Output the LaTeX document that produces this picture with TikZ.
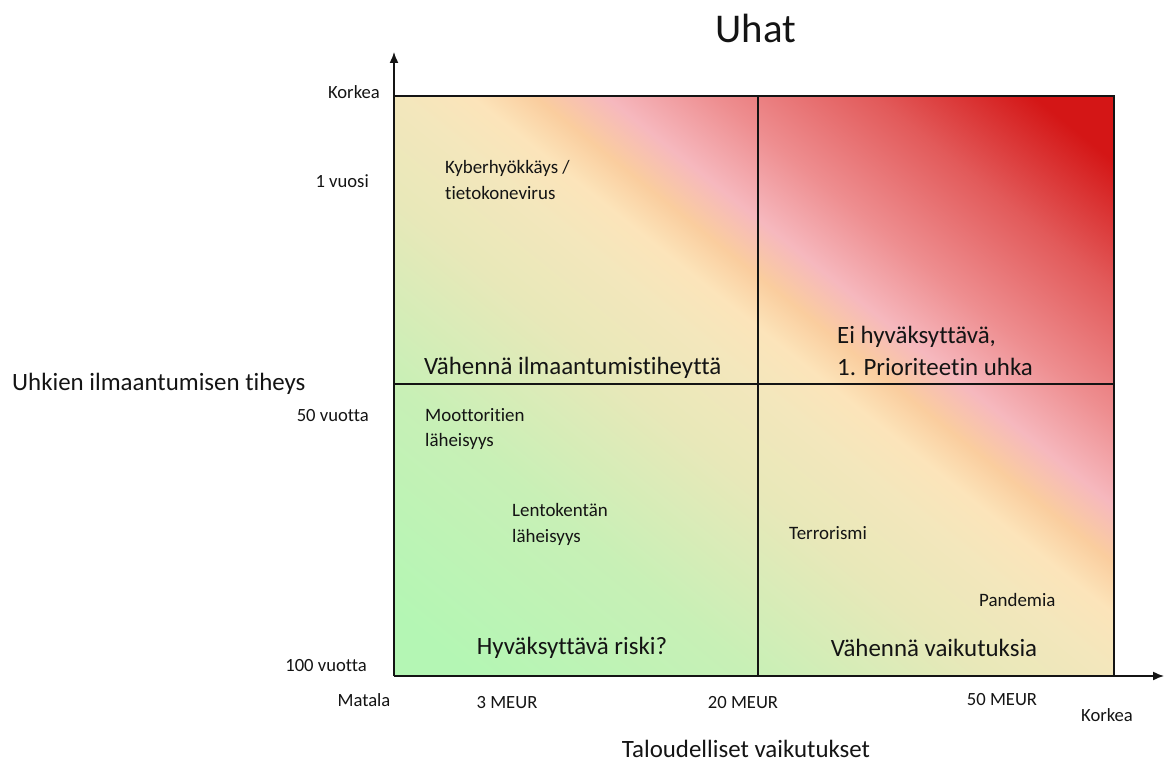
\documentclass[tikz,border=0pt]{standalone}
\usepackage{fontspec}
\setmainfont{Carlito}[Ligatures=NoCommon]
\usepackage{tikz}
\usetikzlibrary{arrows.meta, positioning}
\definecolor{mydark}{RGB}{20,20,20}
% diagonal risk colouring, green (low) to red (high)
\pgfdeclarehorizontalshading{riskgrad}{100bp}{%
  rgb(0bp)=(.706,.965,.706); rgb(18.64bp)=(.706,.965,.706);
  rgb(32.44bp)=(.784,.941,.714); rgb(43.73bp)=(.910,.910,.725);
  rgb(50bp)=(.953,.906,.737); rgb(53.77bp)=(.988,.894,.729);
  rgb(56.9bp)=(.980,.804,.620); rgb(60.36bp)=(.965,.722,.745);
  rgb(65.69bp)=(.933,.557,.565); rgb(73.53bp)=(.886,.353,.353);
  rgb(81.37bp)=(.831,.086,.086); rgb(100bp)=(.831,.086,.086)}
\tikzset{
  ticklbl/.style={font=\fontsize{18.7}{22}\selectfont, color=mydark, inner sep=0pt},
  axistitle/.style={font=\fontsize{25}{30}\selectfont, color=mydark, inner sep=0pt},
  quadlbl/.style={font=\fontsize{25}{32}\selectfont, color=mydark, inner sep=0pt, align=left},
  itemlbl/.style={font=\fontsize{19}{26}\selectfont, color=mydark, inner sep=0pt, align=left},
  gridline/.style={line width=1.5bp, color=mydark},
  axisarrow/.style={-{Latex[length=11bp,width=9bp]}, line width=1.5bp, color=mydark}
}
\begin{document}
\begin{tikzpicture}[x=1bp, y=-1bp]
  \useasboundingbox (0,0) rectangle (1166,764);
  % corners of the matrix
  \coordinate (tl) at (394,96);
  \coordinate (tr) at (1114,96);
  \coordinate (br) at (1114,676);
  \coordinate (bl) at (394,676);
  \coordinate (tm) at (758,96);
  \coordinate (bm) at (758,676);
  \coordinate (lm) at (394,384);
  \coordinate (rm) at (1114,384);
  \coordinate (ytip) at (394,52);
  \coordinate (xtip) at (1164,676);
  \shade[shading=riskgrad, shading angle=51.15] (tl) rectangle (br);
  % quadrants
  \draw[gridline] (tm) -- (bm);
  \draw[gridline] (lm) -- (rm);
  \draw[gridline] (tl) -- (tr) -- (br);
  % axes
  \draw[axisarrow] (bl) -- (ytip);
  \draw[axisarrow] (bl) -- (xtip);
  % title
  \node[font=\fontsize{41}{48}\selectfont, color=mydark] (title) at (756,28) {Uhat};
  % y axis
  \node[axistitle, anchor=west] (ytitle) at (12,384) {Uhkien ilmaantumisen tiheys};
  \node[ticklbl, anchor=east] (yhigh) at (380,92) {Korkea};
  \node[ticklbl, anchor=east] (y1) at (369,181) {1 vuosi};
  \node[ticklbl, anchor=east] (y50) at (369,416) {50 vuotta};
  \node[ticklbl, anchor=east] (y100) at (367,666) {100 vuotta};
  % x axis
  \node[ticklbl] (xlow) at (364,700) {Matala};
  \node[ticklbl] (x3) at (507,703) {3 MEUR};
  \node[ticklbl] (x20) at (743,703) {20 MEUR};
  \node[ticklbl] (x50) at (1002,700) {50 MEUR};
  \node[ticklbl] (xhigh) at (1107,715) {Korkea};
  \node[axistitle] (xtitle) at (746,749) {Taloudelliset vaikutukset};
  % quadrant texts
  \node[quadlbl, anchor=west] (q1) at (424,368) {Vähennä ilmaantumistiheyttä};
  \node[quadlbl, anchor=west] (q2) at (837,351) {Ei hyväksyttävä,\\1. Prioriteetin uhka};
  \node[quadlbl] (q3) at (572,648) {Hyväksyttävä riski?};
  \node[quadlbl] (q4) at (934,648) {Vähennä vaikutuksia};
  % threats
  \node[itemlbl, anchor=west] (cyber) at (445,180) {Kyberhyökkäys /\\tietokonevirus};
  \node[itemlbl, anchor=west] (road) at (425,429) {Moottoritien\\läheisyys};
  \node[itemlbl, anchor=west] (airport) at (512,524) {Lentokentän\\läheisyys};
  \node[itemlbl, anchor=west] (terror) at (789,533) {Terrorismi};
  \node[itemlbl, anchor=west] (pandemic) at (979,600) {Pandemia};
\end{tikzpicture}
\end{document}
